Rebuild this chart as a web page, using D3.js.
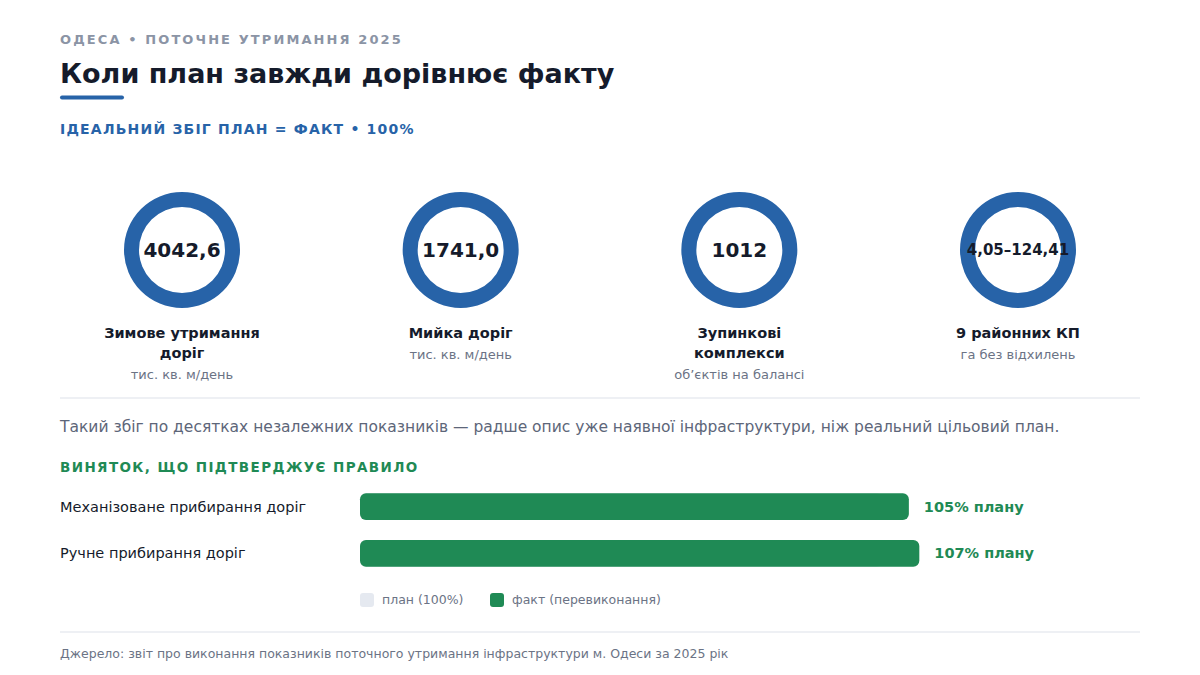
<!DOCTYPE html>
<html>
<head>
<meta charset="utf-8">
<script src="https://d3js.org/d3.v7.min.js"></script>
<style>
  body { margin: 0; background: #fff; }
  svg { display: block; font-family: "DejaVu Sans", sans-serif; }
</style>
</head>
<body>
<script>
// дані
var kpiValues = ["4042,6", "1741,0", "1012", "4,05–124,41"];
var kpiLabels = [["Зимове утримання", "доріг"], ["Мийка доріг"], ["Зупинкові", "комплекси"], ["9 районних КП"]];
var kpiUnits = ["тис. кв. м/день", "тис. кв. м/день", "об’єктів на балансі", "га без відхилень"];
var kpiPct = [100, 100, 100, 100];

var barCategories = ["Механізоване прибирання доріг", "Ручне прибирання доріг"];
var barPlan = [100, 100];
var barFact = [105, 107];
var legendLabels = ["план (100%)", "факт (перевиконання)"];

var blue = "#2763a8", green = "#1f8a55", dark = "#151b2b", gray = "#6b7385";

var width = 1200, height = 675;
var svg = d3.select("body").append("svg")
    .attr("width", width)
    .attr("height", height);

// заголовок
svg.append("text").attr("x", 60).attr("y", 44)
    .attr("font-size", 13).attr("font-weight", "bold").attr("letter-spacing", 2.1)
    .attr("fill", "#8b94a5").text("ОДЕСА • ПОТОЧНЕ УТРИМАННЯ 2025");
svg.append("text").attr("x", 60).attr("y", 83)
    .attr("font-size", 27).attr("font-weight", "bold").attr("fill", dark)
    .text("Коли план завжди дорівнює факту");
svg.append("rect").attr("x", 60).attr("y", 95.5).attr("width", 64).attr("height", 4)
    .attr("rx", 2).attr("fill", blue);
svg.append("text").attr("x", 60).attr("y", 134)
    .attr("font-size", 14).attr("font-weight", "bold").attr("letter-spacing", 1.2)
    .attr("fill", blue).text("ІДЕАЛЬНИЙ ЗБІГ ПЛАН = ФАКТ • 100%");

// кільця
var xKpi = d3.scalePoint().domain(d3.range(kpiValues.length)).range([182, 1018]);
var arc = d3.arc().innerRadius(43).outerRadius(58);
var pie = d3.pie().sort(null);

var kpi = svg.selectAll(".kpi")
    .data(kpiValues)
    .join("g")
    .attr("class", "kpi")
    .attr("transform", function (d, i) { return "translate(" + xKpi(i) + ",250)"; });

kpi.selectAll("path")
    .data(function (d, i) { return pie([kpiPct[i], 100 - kpiPct[i]]); })
    .join("path")
    .attr("d", arc)
    .attr("fill", function (d, j) { return j === 0 ? blue : "#e5e9f0"; });

kpi.append("text")
    .attr("text-anchor", "middle").attr("dy", "0.35em")
    .attr("font-weight", "bold").attr("fill", dark)
    .attr("font-size", function (d) { return d.length > 8 ? 15 : 20; })
    .text(function (d) { return d; });

kpi.each(function (d, i) {
    var g = d3.select(this);
    kpiLabels[i].forEach(function (line, k) {
        g.append("text").attr("text-anchor", "middle").attr("y", 88 + k * 20)
            .attr("font-size", 14.5).attr("font-weight", "bold").attr("fill", dark)
            .text(line);
    });
    g.append("text").attr("text-anchor", "middle")
        .attr("y", 109 + (kpiLabels[i].length - 1) * 20)
        .attr("font-size", 13).attr("fill", gray)
        .text(kpiUnits[i]);
});

// розділювач
svg.append("line").attr("x1", 60).attr("x2", 1140).attr("y1", 398).attr("y2", 398)
    .attr("stroke", "#e8ebf0").attr("stroke-width", 1.5);

svg.append("text").attr("x", 60).attr("y", 432)
    .attr("font-size", 15.5).attr("fill", "#5d6679")
    .text("Такий збіг по десятках незалежних показників — радше опис уже наявної інфраструктури, ніж реальний цільовий план.");

svg.append("text").attr("x", 60).attr("y", 472)
    .attr("font-size", 13.5).attr("font-weight", "bold").attr("letter-spacing", 1.4)
    .attr("fill", green).text("ВИНЯТОК, ЩО ПІДТВЕРДЖУЄ ПРАВИЛО");

// смуги
var x = d3.scaleLinear().domain([0, 110]).range([360, 935]);
var y = d3.scaleBand().domain(barCategories).range([484, 576]).paddingInner(0.43).paddingOuter(0.2);

var rows = svg.selectAll(".row")
    .data(barCategories)
    .join("g")
    .attr("class", "row");

rows.append("text")
    .attr("x", 60).attr("y", function (d) { return y(d) + y.bandwidth() / 2; })
    .attr("dy", "0.35em").attr("font-size", 14.5).attr("fill", dark)
    .text(function (d) { return d; });

rows.append("rect")
    .attr("x", x(0)).attr("y", function (d) { return y(d); })
    .attr("width", function (d, i) { return x(barPlan[i]) - x(0); })
    .attr("height", y.bandwidth()).attr("rx", 6)
    .attr("fill", "#e5e9f0");

rows.append("rect")
    .attr("x", x(0)).attr("y", function (d) { return y(d); })
    .attr("width", function (d, i) { return x(barFact[i]) - x(0); })
    .attr("height", y.bandwidth()).attr("rx", 6)
    .attr("fill", green);

rows.append("text")
    .attr("x", function (d, i) { return x(barFact[i]) + 15; })
    .attr("y", function (d) { return y(d) + y.bandwidth() / 2; })
    .attr("dy", "0.35em").attr("font-size", 14.5).attr("font-weight", "bold")
    .attr("fill", green)
    .text(function (d, i) { return barFact[i] + "% плану"; });

// легенда
var legendX = [360, 490];
var legend = svg.selectAll(".legend")
    .data(legendLabels)
    .join("g")
    .attr("class", "legend")
    .attr("transform", function (d, i) { return "translate(" + legendX[i] + ",593)"; });
legend.append("rect").attr("width", 14).attr("height", 14).attr("rx", 3)
    .attr("fill", function (d, i) { return i === 0 ? "#e5e9f0" : green; });
legend.append("text").attr("x", 22).attr("y", 7).attr("dy", "0.35em")
    .attr("font-size", 12.5).attr("fill", gray)
    .text(function (d) { return d; });

// джерело
svg.append("line").attr("x1", 60).attr("x2", 1140).attr("y1", 632).attr("y2", 632)
    .attr("stroke", "#e8ebf0").attr("stroke-width", 1.5);
svg.append("text").attr("x", 60).attr("y", 658)
    .attr("font-size", 12.5).attr("fill", gray)
    .text("Джерело: звіт про виконання показників поточного утримання інфраструктури м. Одеси за 2025 рік");
</script>
</body>
</html>
